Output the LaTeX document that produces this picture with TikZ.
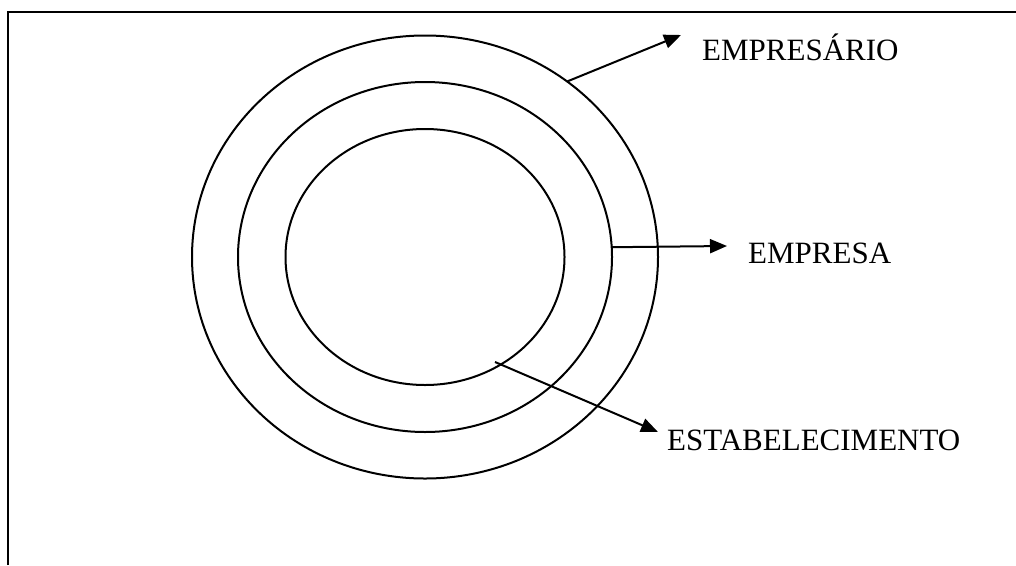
\documentclass[tikz,border=0pt]{standalone}
\usepackage{fontspec}
\setmainfont{Liberation Serif}
\usetikzlibrary{shapes,arrows.meta,positioning,calc}

\begin{document}
\begin{tikzpicture}[
  x=1pt, y=-1pt,
  ring/.style={ellipse, draw, line width=2pt, inner sep=0pt, outer sep=0pt},
  lbl/.style={anchor=base west, inner sep=0pt, font=\fontsize{31}{35}\selectfont},
  arrow/.style={-{Triangle[length=17pt,width=14pt]}, line width=2pt}
]
  \useasboundingbox (0,0) rectangle (1016,565);
  % frame (cut at right and bottom)
  \draw[line width=2.5pt] (8,565) -- (8,12) -- (1016,12);

  \node[ring, minimum width=466pt, minimum height=443pt] (outer) at (425,257) {};
  \node[ring, minimum width=374pt, minimum height=350pt] (middle) at (425,257) {};
  \node[ring, minimum width=279pt, minimum height=256pt] (inner) at (425,257) {};

  \node[lbl] (empresario) at (702,60) {EMPRESÁRIO};
  \node[lbl] (empresa) at (748,263) {EMPRESA};
  \node[lbl] (estab) at (667,450) {ESTABELECIMENTO};

  \coordinate (tipA) at (681,35);
  \coordinate (tipB) at (727,246);
  \coordinate (tipC) at (658,432);
  \coordinate (startC) at (495,362);

  \draw[arrow] (outer.51) -- (tipA);
  \draw[arrow] (middle.3) -- (tipB);
  \draw[arrow] (startC) -- (tipC);
\end{tikzpicture}
\end{document}
